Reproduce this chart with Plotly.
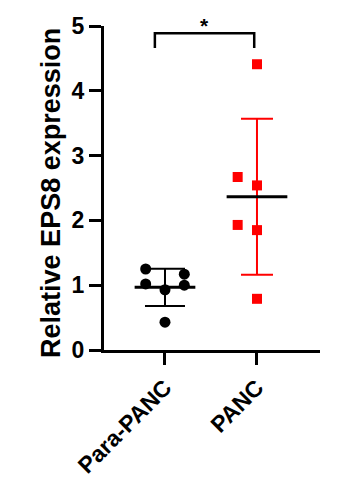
import numpy as np
import plotly.graph_objects as go

categories = ["Para-PANC", "PANC"]
para_vals = [1.25, 1.17, 1.02, 1.00, 0.93, 0.43]
panc_vals = [4.41, 2.67, 2.54, 1.93, 1.85, 0.79]
y_ticks = [0, 1, 2, 3, 4, 5]
y_title = "Relative EPS8 expression"
sig_label = "*"

# layout-only jitter offsets (x positions within each category)
para_off = [-0.21, 0.21, -0.21, 0.21, 0.0, 0.0]
panc_off = [0.0, -0.21, 0.0, -0.21, 0.0, 0.0]

FONT = "Liberation Sans, Arial, sans-serif"
fig = go.Figure()

groups = [
    (0, para_vals, para_off, "black", "circle", 11, 20),
    (1, panc_vals, panc_off, "#ff0000", "square", 10, 16),
]
for xi, vals, offs, col, sym, sz, capw in groups:
    m = float(np.mean(vals))
    sd = float(np.std(vals, ddof=1))
    fig.add_trace(go.Scatter(
        x=[xi], y=[m], mode="markers",
        marker=dict(size=1, color="rgba(0,0,0,0)"),
        error_y=dict(type="data", array=[sd], visible=True, color=col,
                     thickness=2, width=capw),
        showlegend=False, hoverinfo="skip"))
    fig.add_trace(go.Scatter(
        x=[xi + o for o in offs], y=vals, mode="markers",
        marker=dict(symbol=sym, size=sz, color=col, line=dict(width=0)),
        showlegend=False, cliponaxis=False))
    fig.add_trace(go.Scatter(
        x=[xi - 0.33, xi + 0.33], y=[m, m], mode="lines",
        line=dict(color="black", width=3), showlegend=False, hoverinfo="skip"))

fig.add_shape(type="path",
              path="M -0.11 4.66 L -0.11 4.89 L 0.97 4.89 L 0.97 4.66",
              line=dict(color="black", width=2.5), xref="x", yref="y")
fig.add_annotation(x=0.43, y=4.80, xref="x", yref="y", text=sig_label,
                   showarrow=False, yanchor="bottom",
                   font=dict(family=FONT, size=21, color="black", weight="bold"))

# y-axis title as rotated annotation
fig.add_annotation(x=-0.245, y=0.485, xref="paper", yref="paper", text=y_title,
                   textangle=-90, showarrow=False, xanchor="center", yanchor="middle",
                   font=dict(family=FONT, size=27, color="black", weight="bold"))

fig.update_layout(
    width=337, height=481,
    margin=dict(l=104, r=17, t=26, b=131, autoexpand=False),
    plot_bgcolor="white", paper_bgcolor="white",
    font=dict(family=FONT, color="black"),
)
fig.update_xaxes(
    range=[-0.663, 1.685], tickvals=[0, 1], ticktext=categories,
    tickangle=-45, showgrid=False, zeroline=False, automargin=False,
    showline=True, linecolor="black", linewidth=3,
    ticks="outside", ticklen=12, tickwidth=3, tickcolor="black",
    tickfont=dict(family=FONT, size=23, color="black", weight="bold"),
)
fig.update_yaxes(
    range=[0, 5], tickvals=y_ticks, showgrid=False, zeroline=False,
    automargin=False,
    showline=True, linecolor="black", linewidth=3,
    ticks="outside", ticklen=12, tickwidth=3, tickcolor="black",
    tickfont=dict(family=FONT, size=23, color="black", weight="bold"),
)

fig.write_html("out.html")
